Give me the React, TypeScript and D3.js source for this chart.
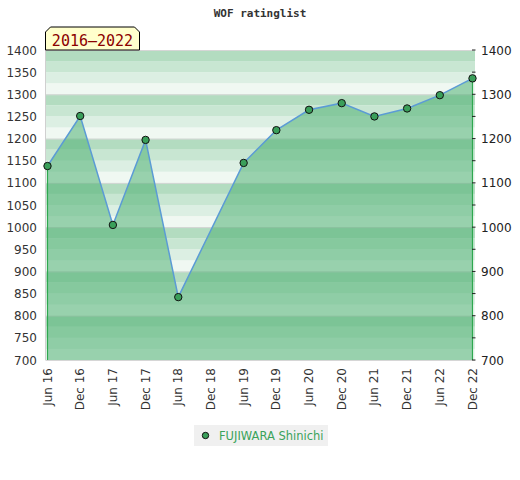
import React from "react";
import * as d3 from "d3";

const title = "WOF ratinglist";
const period = "2016–2022";
const playerName = "FUJIWARA Shinichi";
const tickLabels = ["Jun 16","Dec 16","Jun 17","Dec 17","Jun 18","Dec 18","Jun 19","Dec 19","Jun 20","Dec 20","Jun 21","Dec 21","Jun 22","Dec 22"];
const pointIndex = [0,1,2,3,4,6,7,8,9,10,11,12,13];
const ratings = [1138,1251,1005,1197,842,1145,1219,1265,1280,1250,1268,1298,1336];
const leftTicks = [700,750,800,850,900,950,1000,1050,1100,1150,1200,1250,1300,1350,1400];
const rightTicks = [700,800,900,1000,1100,1200,1300,1400];
const bandColors = ["#b3dcc0","#c8e6d2","#dcefe3","#f0f8f2"];

export default function App() {
  const W = 520, H = 480;
  const left = 45.5, right = 475, top = 50, bottom = 360;
  const y = d3.scaleLinear().domain([700,1400]).range([bottom, top]);
  const x = d3.scaleLinear().domain([0, 13]).range([47.5, 472.5]);
  const pts: [number, number][] = pointIndex.map((i, k) => [x(i), y(ratings[k])]);
  const line = d3.line<[number, number]>().x(d => d[0]).y(d => d[1]);
  const area = d3.area<[number, number]>().x(d => d[0]).y0(y(700)).y1(d => d[1]);
  const bands = d3.range(700, 1400, 25);
  return (
    <svg width={W} height={H} style={{ display: "block", position: "absolute", left: 0, top: 0 }}>
      <rect x={0} y={0} width={W} height={H} fill="#fff" />
      <text x={260} y={17} textAnchor="middle" fontFamily="DejaVu Sans Mono" fontWeight="bold" fontSize={11} fill="#333">{title}</text>
      {bands.map(v => {
        const idx = Math.round((1400 - (v + 25)) / 25) % 4;
        return <rect key={v} x={left} y={y(v + 25)} width={right - left} height={y(v) - y(v + 25)} fill={bandColors[idx]} />;
      })}
      {rightTicks.map(v => (
        <line key={"g" + v} x1={left} x2={right} y1={y(v) + 0.5} y2={y(v) + 0.5} stroke="#d6d6d6" strokeWidth={1} />
      ))}
      <line x1={left} x2={left} y1={top} y2={bottom} stroke="#d0d0d0" />
      <path d={area(pts) || ""} fill="rgb(77,175,114)" fillOpacity={0.54} />
      <line x1={pts[0][0]} x2={pts[0][0]} y1={pts[0][1]} y2={bottom} stroke="#2ea84f" strokeWidth={1.2} />
      <line x1={pts[pts.length-1][0]} x2={pts[pts.length-1][0]} y1={pts[pts.length-1][1]} y2={bottom} stroke="#2ea84f" strokeWidth={1.2} />
      <path d={line(pts) || ""} fill="none" stroke="#5b9bd5" strokeWidth={1.5} />
      {pts.map((p, i) => (
        <circle key={i} cx={p[0]} cy={p[1]} r={3.7} fill="#3a9f5a" stroke="#111" strokeWidth={1} />
      ))}
      {leftTicks.map(v => (
        <text key={"l" + v} x={37} y={y(v) + 4.5} textAnchor="end" fontFamily="DejaVu Sans" fontSize={12} fill="#333">{v}</text>
      ))}
      {leftTicks.map(v => (
        <line key={"rt" + v} x1={472} x2={475.5} y1={y(v)} y2={y(v)} stroke="#222" strokeWidth={1} />
      ))}
      {rightTicks.map(v => (
        <text key={"r" + v} x={481} y={y(v) + 4.5} textAnchor="start" fontFamily="DejaVu Sans" fontSize={12} fill="#222">{v}</text>
      ))}
      {tickLabels.map((t, i) => (
        <text key={t} transform={`translate(${x(i) + 4},${368}) rotate(-90)`} textAnchor="end" fontFamily="DejaVu Sans" fontSize={12} fill="#333">{t}</text>
      ))}
      <path d="M45.5,50 L45.5,32 L50.5,27 L134.5,27 L139.5,32 L139.5,50 Z" fill="#ffffcc" stroke="#000" strokeWidth={1} />
      <text x={92.5} y={46} textAnchor="middle" fontFamily="DejaVu Sans Mono" fontSize={15} fill="#8b0000">{period}</text>
      <rect x={194} y={425} width={134} height={21} fill="#f0f0f0" />
      <circle cx={205.5} cy={435.5} r={3.2} fill="#3a9f5a" stroke="#111" strokeWidth={1} />
      <text x={219} y={440} fontFamily="DejaVu Sans" fontSize={11.5} fill="#3aa35a">{playerName}</text>
    </svg>
  );
}
